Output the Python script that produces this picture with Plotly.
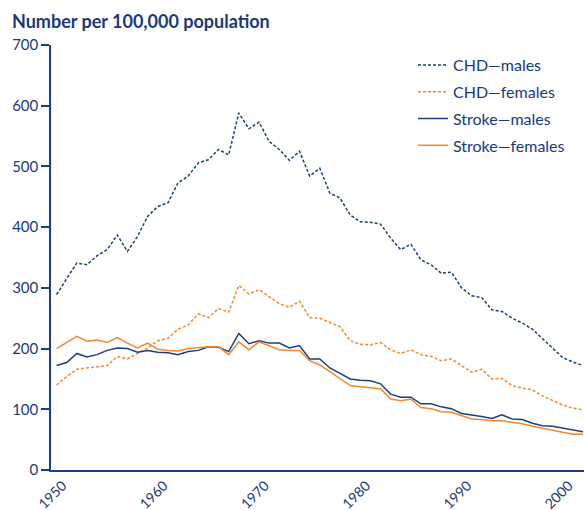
import plotly.graph_objects as go

years = list(range(1950, 2003))

chd_males = [289, 315, 341, 338, 353, 363, 387, 360, 385, 418, 434, 440, 473, 484, 506, 511,
             528, 519, 588, 562, 573, 541, 528, 510, 525, 484, 497, 456, 448, 420, 409, 408,
             405, 382, 363, 372, 346, 338, 324, 326, 300, 287, 284, 264, 261, 250, 242, 232,
             216, 201, 185, 178, 172]

chd_females = [140, 154, 166, 168, 170, 172, 187, 183, 192, 201, 213, 217, 232, 239, 257, 251,
               266, 260, 304, 290, 297, 285, 274, 268, 278, 251, 250, 243, 236, 213, 207, 206,
               210, 198, 192, 198, 190, 187, 180, 183, 172, 161, 166, 150, 151, 139, 135, 132,
               122, 114, 107, 102, 99]

stroke_males = [172, 177, 192, 186, 190, 197, 201, 200, 194, 197, 194, 193, 190, 195, 197, 203,
                202, 195, 225, 208, 213, 209, 209, 201, 205, 183, 183, 168, 159, 150, 148, 147,
                142, 125, 120, 120, 109, 109, 104, 101, 93, 91, 88, 85, 91, 84, 83, 77,
                73, 72, 69, 65, 63]

stroke_females = [200, 210, 220, 212, 214, 210, 218, 209, 201, 209, 199, 197, 196, 200, 202, 203,
                  203, 190, 211, 198, 211, 205, 198, 197, 197, 180, 173, 162, 150, 139, 137, 135,
                  134, 117, 114, 117, 103, 101, 96, 95, 90, 84, 83, 81, 81, 79, 76, 72,
                  69, 66, 63, 59, 59]

series_names = ["CHD\u2014males", "CHD\u2014females", "Stroke\u2014males", "Stroke\u2014females"]
x_ticks = [1950, 1960, 1970, 1980, 1990, 2000]
y_ticks = [0, 100, 200, 300, 400, 500, 600, 700]

NAVY = "#1c3f84"
ORANGE = "#f7862a"
TEXT = "#1a3a7a"
FONT = "Lato"

fig = go.Figure()
styles = [(chd_males, NAVY, "3px,2px"), (chd_females, ORANGE, "3px,2px"),
          (stroke_males, NAVY, "solid"), (stroke_females, ORANGE, "solid")]
for name, (vals, col, dash) in zip(series_names, styles):
    fig.add_trace(go.Scatter(x=years, y=vals, mode="lines", name=name, legendgroup=name,
                             line=dict(color=col, width=1.5, dash=dash), cliponaxis=False))

fig.update_layout(
    width=584, height=510,
    margin=dict(l=51, r=0, t=45, b=40, autoexpand=False),
    paper_bgcolor="white", plot_bgcolor="white",
    font=dict(family=FONT, color=TEXT, size=15),
    title=dict(text="<b>Number per 100,000 population</b>", x=12/584, xanchor="left",
               xref="container", yref="container", y=1 - 15/510, yanchor="top",
               font=dict(size=18, color=TEXT, family=FONT)),
    legend=dict(x=(413-51)/533, y=1 + (45-48)/425, xanchor="left", yanchor="top",
                font=dict(size=16, color=TEXT, family=FONT), bgcolor="rgba(0,0,0,0)",
                tracegroupgap=3, itemwidth=30),
    xaxis=dict(range=[1949.45, 2002.1], tickvals=x_ticks, tickangle=-45, showgrid=False,
               zeroline=False, showline=True, linecolor=NAVY, linewidth=2, ticks="",
               tickfont=dict(size=14, color=TEXT), automargin=False, ticklabelshift=6),
    yaxis=dict(range=[0, 700], tickvals=y_ticks, showgrid=False, zeroline=False,
               showline=True, linecolor=NAVY, linewidth=1.5, ticks="outside", ticklen=8,
               tickcolor=NAVY, tickwidth=1.5, tickfont=dict(size=15, color=TEXT),
               automargin=False),
)

fig.write_html("out.html", config={"displayModeBar": False},
               post_script="document.body.style.margin='0';document.body.style.padding='0';")
